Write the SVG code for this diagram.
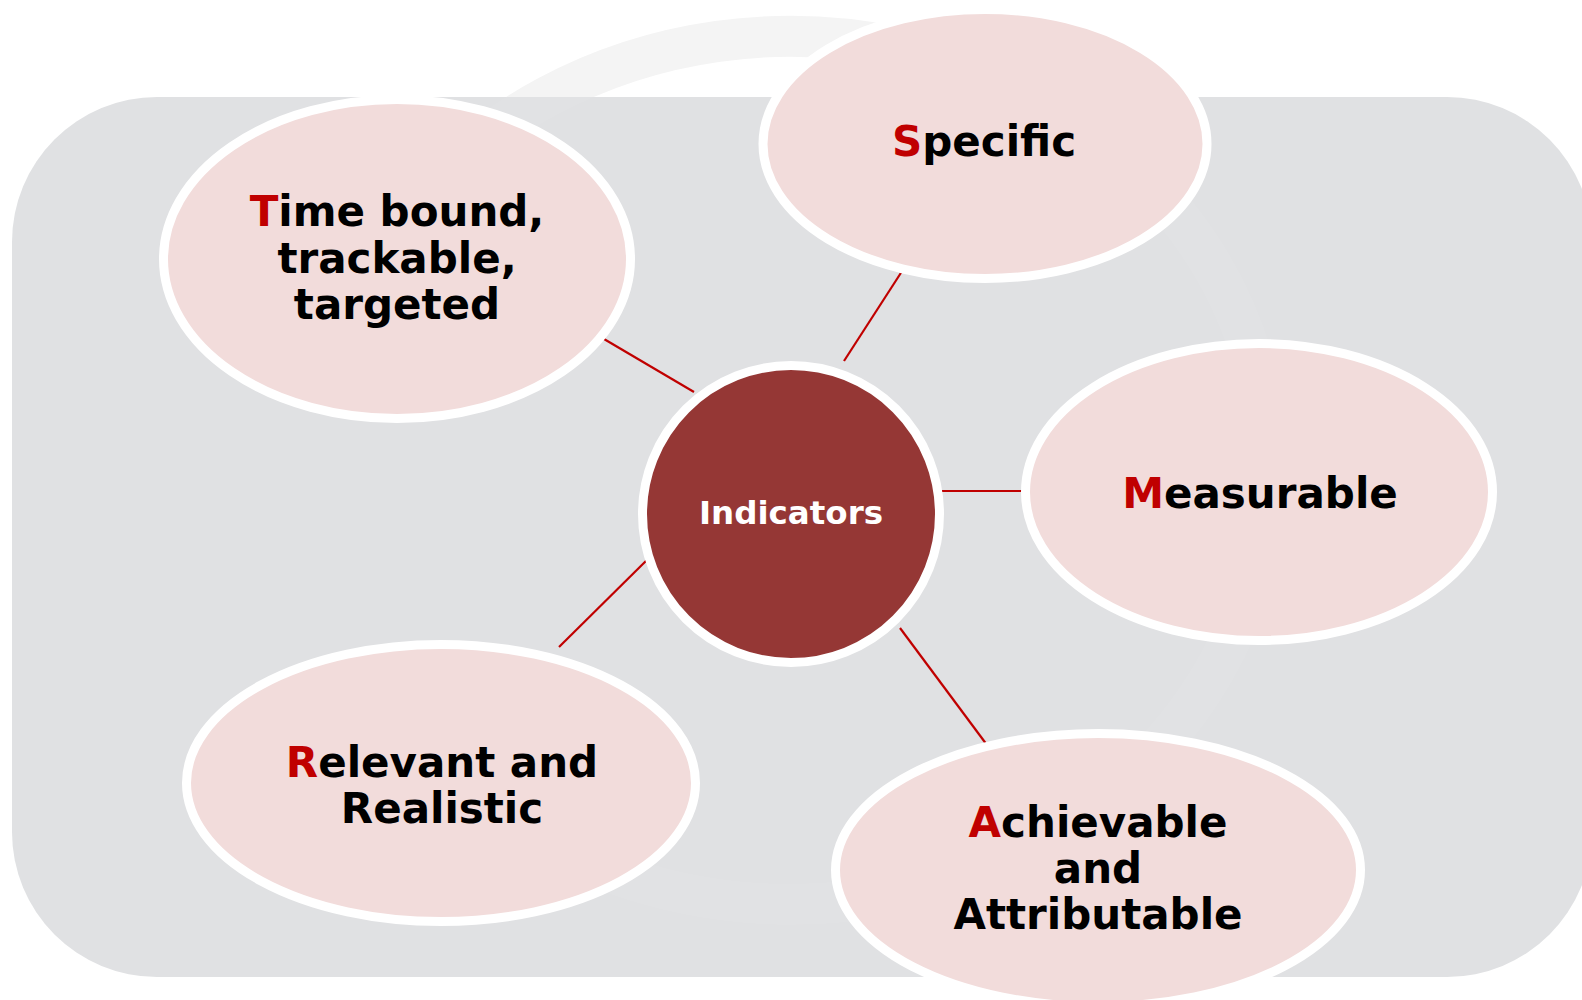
<svg xmlns="http://www.w3.org/2000/svg" width="1582" height="1000" viewBox="0 0 1582 1000">
<style>
.bub{fill:#f2dcdb;stroke:#ffffff;stroke-width:9}
.hub{fill:#953735;stroke:#ffffff;stroke-width:9}
.lbl{font-family:"DejaVu Sans","Verdana",sans-serif;font-weight:bold;font-size:42px;fill:#000000;text-anchor:middle}
.hl{fill:#c00000}
.hubt{font-family:"DejaVu Sans","Verdana",sans-serif;font-weight:bold;font-size:32.5px;fill:#ffffff;text-anchor:middle}
.con{stroke:#c00000;stroke-width:2.2;fill:none}
</style>
<rect x="0" y="0" width="1582" height="1000" fill="#ffffff"/>
<g id="backdrop">
<path d="M 420 196 A 478 434 0 1 1 615 874" fill="none" stroke="#f4f4f4" stroke-width="41"/>
<rect x="12" y="97" width="1580" height="880" rx="145" ry="145" fill="#e0e1e3"/>
<path d="M 420 196 A 478 434 0 1 1 615 874" fill="none" stroke="#ffffff" stroke-opacity="0.05" stroke-width="41"/>
</g>
<g id="connectors">
<line class="con" x1="844" y1="361" x2="906" y2="265"/>
<line class="con" x1="694" y1="392" x2="604" y2="339"/>
<line class="con" x1="934" y1="491" x2="1025" y2="491"/>
<line class="con" x1="654" y1="553" x2="559" y2="647"/>
<line class="con" x1="900" y1="628" x2="987" y2="745"/>
</g>
<g id="node-specific">
<ellipse class="bub" cx="985" cy="144" rx="222" ry="134.5"/>
<text class="lbl" x="984" y="156"><tspan class="hl">S</tspan>pecific</text>
</g>
<g id="node-timebound">
<ellipse class="bub" cx="397" cy="259" rx="233.5" ry="159.5"/>
<text class="lbl" x="397" y="226"><tspan class="hl">T</tspan>ime bound,</text>
<text class="lbl" x="397" y="273">trackable,</text>
<text class="lbl" x="397" y="319">targeted</text>
</g>
<g id="node-measurable">
<ellipse class="bub" cx="1259" cy="492" rx="233.5" ry="148.5"/>
<text class="lbl" x="1260" y="508"><tspan class="hl">M</tspan>easurable</text>
</g>
<g id="node-relevant">
<ellipse class="bub" cx="441" cy="783" rx="254.5" ry="138.5"/>
<text class="lbl" x="442" y="777"><tspan class="hl">R</tspan>elevant and</text>
<text class="lbl" x="442" y="823">Realistic</text>
</g>
<g id="node-achievable">
<ellipse class="bub" cx="1098" cy="870" rx="262.5" ry="136.5"/>
<text class="lbl" x="1098" y="837"><tspan class="hl">A</tspan>chievable</text>
<text class="lbl" x="1098" y="883">and</text>
<text class="lbl" x="1098" y="929">Attributable</text>
</g>
<g id="node-indicators">
<circle class="hub" cx="791" cy="514" r="148.5"/>
<text class="hubt" x="791" y="524">Indicators</text>
</g>
</svg>
